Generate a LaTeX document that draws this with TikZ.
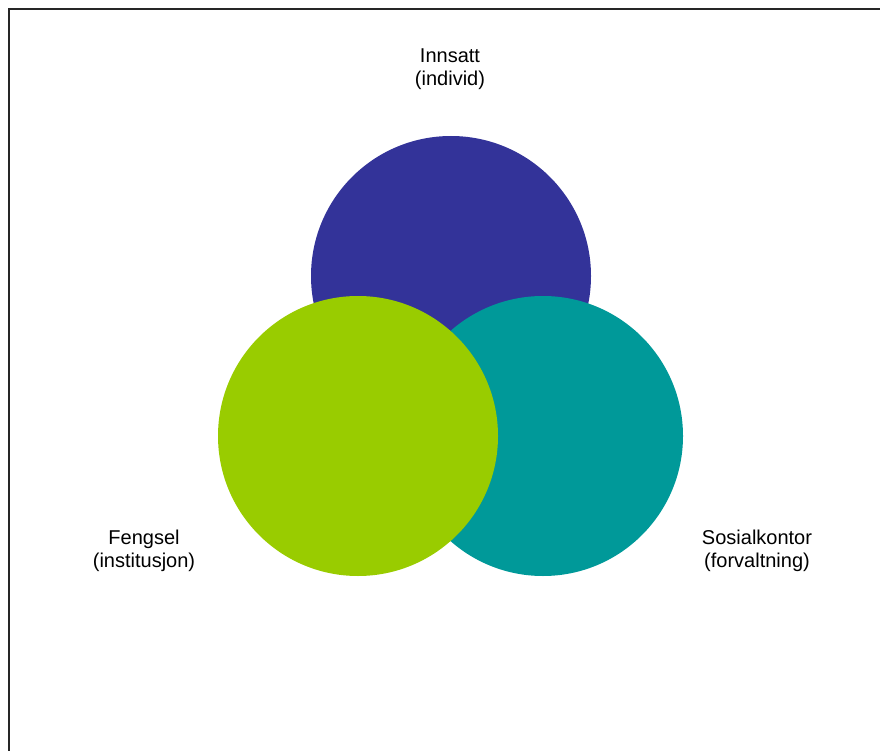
\documentclass[tikz,border=0pt]{standalone}
\usepackage{fontspec}
\setmainfont{Liberation Sans}
\usepackage{tikz}
\usetikzlibrary{positioning}
\definecolor{innsattblue}{RGB}{51,51,153}
\definecolor{fengselgreen}{RGB}{153,204,0}
\definecolor{sosialteal}{RGB}{0,153,153}

\begin{document}
\begin{tikzpicture}[x=1pt,y=-1pt]
        \tikzset{disc/.style = {shape=circle,minimum size=280pt,inner sep=0pt}}
        \tikzset{label/.style = {align=center,font=\fontsize{20}{23}\selectfont}}

        \useasboundingbox (0,0) rectangle (880,751);
        \begin{scope}
          \clip (0,0) rectangle (880,751);
          \draw[line width=2pt, black!85] (9,9) rectangle (900,770);
        \end{scope}

        \node[disc, fill=innsattblue] (innsatt) at (451, 276) {};
        \node[disc, fill=sosialteal] (sosial) at (543, 436) {};
        \node[disc, fill=fengselgreen] (fengsel) at (358, 436) {};

        \node[label] (innsatttxt) at (450, 69) {Innsatt\\(individ)};
        \node[label] (fengseltxt) at (144, 551) {Fengsel\\(institusjon)};
        \node[label] (sosialtxt) at (757, 551) {Sosialkontor\\(forvaltning)};
      \end{tikzpicture}
\end{document}
